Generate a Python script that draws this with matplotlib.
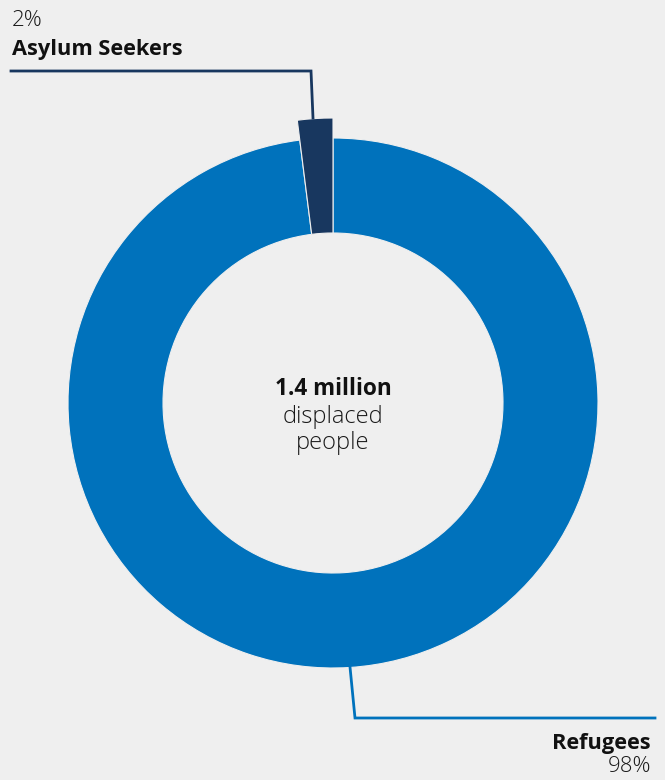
import matplotlib.pyplot as plt

plt.rcParams['font.family'] = ['Open Sans', 'DejaVu Sans']

labels = ['Refugees', 'Asylum Seekers']
shares = [98, 2]
colors = ['#0072bc', '#18375f']
center_title = '1.4 million'
center_sub = 'displaced\npeople'

bg = '#efefef'
W, H = 665, 780
fig = plt.figure(figsize=(W / 100, H / 100), dpi=100, facecolor=bg)
ax = fig.add_axes([0, 0, 1, 1])
ax.set_facecolor(bg)

cx, cy = 333, H - 403
r_out, r_in = 265, 170

wedges, _ = ax.pie(shares, colors=colors, startangle=90, counterclock=False,
                   radius=r_out, center=(cx, cy), frame=True,
                   wedgeprops=dict(width=r_out - r_in, edgecolor=bg, linewidth=0.8))
# asylum seekers slice drawn larger
wedges[1].set_radius(285)
wedges[1].set_width(285 - r_in)

ax.set_xlim(0, W)
ax.set_ylim(0, H)
ax.set_aspect('equal')
ax.axis('off')

# connector lines
ax.plot([313, 311, 11], [H - 118, H - 71, H - 71], color=colors[1], lw=2, solid_joinstyle='miter')
ax.plot([350, 355, 655], [H - 667, H - 718, H - 718], color=colors[0], lw=2, solid_joinstyle='miter')

ax.text(12, H - 20, f'{shares[1]}%', fontsize=16, fontweight='light', color='#1a1a1a', va='center', ha='left')
ax.text(12, H - 50, labels[1], fontsize=15.7, fontweight='bold', color='#111111', va='center', ha='left')
ax.text(651, H - 743, labels[0], fontsize=15.7, fontweight='bold', color='#111111', va='center', ha='right')
ax.text(651, H - 767, f'{shares[0]}%', fontsize=16, fontweight='light', color='#1a1a1a', va='center', ha='right')

ax.text(cx, H - 389, center_title, fontsize=16.3, fontweight='bold', color='#111111', ha='center', va='center')
ax.text(cx, H - 430, center_sub, fontsize=17, fontweight='light', color='#1a1a1a', ha='center', va='center',
        linespacing=1.1)

fig.savefig('out.png', dpi=100, facecolor=bg)
